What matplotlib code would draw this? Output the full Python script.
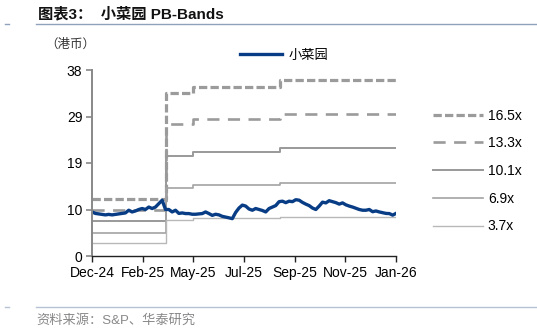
import matplotlib
matplotlib.use("Agg")
import matplotlib.pyplot as plt
import matplotlib.dates as mdates
from matplotlib.lines import Line2D
import pandas as pd

plt.rcParams['font.family'] = ['Liberation Sans', 'Noto Sans CJK SC', 'DejaVu Sans']

# 小菜园 close (HKD), twice-weekly readings
price = [9.0, 8.7, 8.6, 8.5, 8.4, 8.5, 8.4, 8.5, 8.6, 8.7,
         8.8, 9.35, 9.0, 9.2, 9.5, 9.7, 9.5, 10.0, 9.7, 10.0,
         10.7, 11.4, 9.5, 9.5, 9.0, 9.35, 8.7, 8.8, 8.67, 8.67,
         8.53, 8.53, 8.6, 8.67, 9.0, 8.67, 8.3, 8.53, 8.4, 8.1,
         7.95, 7.8, 7.63, 8.9, 9.8, 10.4, 10.2, 9.6, 9.35, 9.7,
         9.5, 9.3, 9.0, 9.7, 10.0, 10.3, 11.1, 11.2, 10.9, 11.2,
         11.1, 11.5, 11.4, 10.95, 10.6, 10.3, 9.8, 9.5, 10.2, 11.0,
         10.85, 11.3, 11.1, 10.9, 10.6, 10.85, 10.45, 10.2, 10.0, 9.75,
         9.5, 9.35, 9.35, 9.5, 9.05, 9.2, 9.0, 8.85, 8.7, 8.67,
         8.35, 8.7]
start, end = '2024-12-20', '2026-01-20'

# PB band levels, changing on book value updates
band_dates = ['2024-12-20', '2025-03-26', '2025-05-01', '2025-08-22', '2026-01-20']
band_165 = [11.6, 33.4, 34.6, 35.9, 35.9]
band_133 = [9.3, 26.9, 27.9, 29.0, 29.0]
band_101 = [7.1, 20.4, 21.2, 22.0, 22.0]
band_69 = [4.8, 13.9, 14.5, 15.0, 15.0]
band_37 = [2.6, 7.4, 7.7, 8.0, 8.0]
band_labels = ['16.5x', '13.3x', '10.1x', '6.9x', '3.7x']

y_ticks = [0, 9.5, 19, 28.5, 38]
y_labels = ['0', '10', '19', '29', '38']
x_ticks = pd.date_range(start, periods=7, freq='66D')

fig = plt.figure(figsize=(5.37, 3.31), dpi=100)
ax = fig.add_axes([92/537, 1-256/331, 304/537, 186/331])

pdates = pd.date_range(start, end, periods=len(price))
bdates = pd.to_datetime(band_dates)

grey = '#9b9b9b'
h1, = ax.plot(bdates, band_165, drawstyle='steps-post', color=grey, lw=2.3,
              linestyle=(0, (2.6, 1.0)))
h2, = ax.plot(bdates, band_133, drawstyle='steps-post', color=grey, lw=1.9,
              linestyle=(0, (4.6, 3.2)))
h3, = ax.plot(bdates, band_101, drawstyle='steps-post', color='#999999', lw=1.4)
h4, = ax.plot(bdates, band_69, drawstyle='steps-post', color='#a3a3a3', lw=1.2)
h5, = ax.plot(bdates, band_37, drawstyle='steps-post', color='#b8b8b8', lw=1.0)
hp, = ax.plot(pdates, price, color='#083d85', lw=2.4)

ax.set_xlim(pd.Timestamp(start), pd.Timestamp(end))
ax.set_ylim(0, 38)
ax.set_yticks(y_ticks)
ax.set_yticklabels(y_labels)
ax.set_xticks(x_ticks)
ax.xaxis.set_major_formatter(mdates.DateFormatter('%b-%y'))

for s in ['top', 'right']:
    ax.spines[s].set_visible(False)
ax.spines['left'].set_color('#888888')
ax.spines['left'].set_linewidth(1.4)
ax.spines['bottom'].set_color('#222222')
ax.spines['bottom'].set_linewidth(1.0)
ax.tick_params(axis='y', direction='out', length=4, width=1.2, color='#888888',
               labelsize=10, pad=3)
ax.tick_params(axis='x', direction='out', length=4, width=1.0, color='#222222',
               labelsize=10, pad=3)

leg1 = ax.legend([hp], ['小菜园'], loc='center left', frameon=False,
                 bbox_to_anchor=(240/537, 1-56/331), bbox_transform=fig.transFigure,
                 borderpad=0, borderaxespad=0, handlelength=3.2, handletextpad=0.45,
                 fontsize=9.5)
ax.add_artist(leg1)
ax.legend([h1, h2, h3, h4, h5], band_labels, loc='upper left', frameon=False,
          bbox_to_anchor=(433/537, 1-108.5/331), bbox_transform=fig.transFigure,
          borderpad=0, borderaxespad=0, handlelength=3.6, handletextpad=0.35,
          labelspacing=0.99, fontsize=10)

# header / footer
fig.text(38/537, 1-14/331, '图表3：  小菜园 PB-Bands', fontsize=11, fontweight='bold',
         va='center', ha='left', color='#111111')
fig.add_artist(Line2D([36/537, 1], [1-24/331]*2, color='#8fa2bb', lw=1.0))
fig.add_artist(Line2D([5/537, 9/537], [1-24/331]*2, color='#8fa2bb', lw=1.0))
fig.text(45/537, 1-45/331, '（港币）', fontsize=9, va='center', ha='left', color='#333333')
fig.add_artist(Line2D([36/537, 1], [1-307/331]*2, color='#b7c3d4', lw=1.0))
fig.add_artist(Line2D([5/537, 9/537], [1-307/331]*2, color='#b7c3d4', lw=1.0))
fig.text(36/537, 1-320/331, '资料来源：S&P、华泰研究', fontsize=9.5, va='center', ha='left',
         color='#888888')

fig.savefig('out.png', dpi=100)
